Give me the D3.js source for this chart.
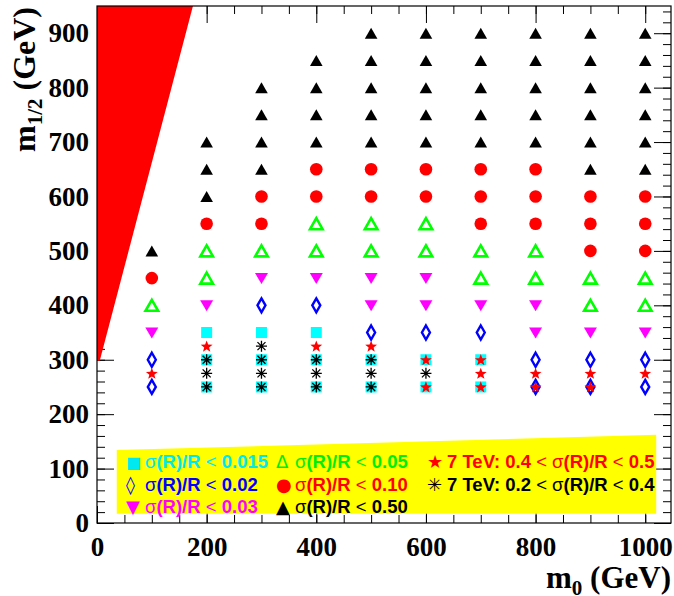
<!DOCTYPE html>
<html>
<head>
<meta charset="utf-8">
<script src="https://cdn.jsdelivr.net/npm/d3@7"></script>
<style>
  body { margin: 0; background: #fff; }
</style>
</head>
<body>
<div id="chart"></div>
<script>
// sigma(R)/R classes on the m0 - m1/2 grid, [m0, m1/2] in GeV
var cyanSquares = [[200,250],[200,300],[200,350],[300,250],[300,300],[300,350],
    [400,250],[400,300],[400,350],[500,250],[500,300],[600,250],[600,300],[700,250],[700,300]];
var blueDiamonds = [[100,250],[100,300],[300,400],[400,400],[500,350],[600,350],[700,350],
    [800,250],[800,300],[900,250],[900,300],[1000,250],[1000,300]];
var magentaDown = [[100,350],[200,400],[300,450],[400,450],[500,400],[500,450],[600,400],
    [600,450],[700,400],[800,350],[800,400],[900,350],[1000,350]];
var greenOpen = [[100,400],[200,450],[200,500],[300,500],[400,500],[400,550],[500,500],
    [500,550],[600,500],[600,550],[700,450],[700,500],[800,450],[800,500],[900,400],
    [900,450],[1000,400],[1000,450]];
var redCircles = [[100,450],[200,550],[300,550],[300,600],[400,600],[400,650],[500,600],
    [500,650],[600,600],[600,650],[700,550],[700,600],[700,650],[800,550],[800,600],
    [800,650],[900,500],[900,550],[900,600],[1000,500],[1000,550],[1000,600]];
var blackUp = [[100,500],[200,600],[200,650],[200,700],[300,650],[300,700],[300,750],[300,800],
    [400,700],[400,750],[400,800],[400,850],
    [500,700],[500,750],[500,800],[500,850],[500,900],
    [600,700],[600,750],[600,800],[600,850],[600,900],
    [700,700],[700,750],[700,800],[700,850],[700,900],
    [800,700],[800,750],[800,800],[800,850],[800,900],
    [900,650],[900,700],[900,750],[900,800],[900,850],[900,900],
    [1000,650],[1000,700],[1000,750],[1000,800],[1000,850],[1000,900]];
var redStars = [[100,275],[200,325],[400,325],[500,325],[600,250],[600,300],[700,250],
    [700,275],[700,300],[800,250],[800,275],[900,250],[900,275],[1000,275]];
var blackAsterisks = [[200,250],[200,275],[200,300],[300,250],[300,275],[300,300],[300,325],
    [400,250],[400,275],[400,300],[500,250],[500,275],[500,300],[600,275]];

// excluded region (red) and legend box, in GeV
var excluded = [[0,298],[5,298],[175,950],[0,950]];
var legendBox = [[36,17],[36,134],[1020,162],[1020,17]];

var xTicks = [0,200,400,600,800,1000];
var yTicks = [0,100,200,300,400,500,600,700,800,900];

var legendGlyphs = ["■","Δ","★","◊","●","✳","▼","▲"];
var legendLabels = ["σ(R)/R < 0.015","σ(R)/R < 0.05","7 TeV: 0.4 < σ(R)/R < 0.5",
    "σ(R)/R < 0.02","σ(R)/R < 0.10","7 TeV: 0.2 < σ(R)/R < 0.4",
    "σ(R)/R < 0.03","σ(R)/R < 0.50"];
var legendColors = ["#00e8f0","#00ee00","#ff0000","#0000ff","#ff0000","#000000","#ff00ff","#000000"];

var width = 674, height = 596;
var padL = 97, padR = 671, padT = 6, padB = 523;

var svg = d3.select("#chart")
    .append("svg")
    .attr("width", width)
    .attr("height", height);

var x = d3.scaleLinear().domain([0, 1047]).range([padL, padR]);
var y = d3.scaleLinear().domain([0, 950]).range([padB, padT]);

var serif = "'Liberation Serif','Times New Roman',serif";
var sans = "'Liberation Sans',Arial,sans-serif";

// ticks (ROOT style, pointing inside, on all four sides)
var xMinor = d3.range(0, 1047, 50);
var yMinor = d3.range(0, 951, 20);

function tickAxis(axis, tx, ty, values, size) {
    var g = svg.append("g")
        .attr("transform", "translate(" + tx + "," + ty + ")")
        .call(axis.tickValues(values).tickSize(size).tickSizeOuter(0).tickFormat(""));
    g.select(".domain").remove();
    g.selectAll("line").attr("stroke", "#000").attr("stroke-width", 1);
    return g;
}
tickAxis(d3.axisBottom(x), 0, padB, xMinor, -8);
tickAxis(d3.axisBottom(x), 0, padB, xTicks, -17);
tickAxis(d3.axisTop(x), 0, padT, xMinor, -8);
tickAxis(d3.axisTop(x), 0, padT, xTicks, -17);
tickAxis(d3.axisLeft(y), padL, 0, yMinor, -8);
tickAxis(d3.axisLeft(y), padL, 0, yTicks, -17);
tickAxis(d3.axisRight(y), padR, 0, yMinor, -8);
tickAxis(d3.axisRight(y), padR, 0, yTicks, -17);

// tick labels
var xa = svg.append("g")
    .attr("transform", "translate(0," + padB + ")")
    .call(d3.axisBottom(x).tickValues(xTicks).tickSize(0).tickPadding(14).tickFormat(d3.format("d")));
xa.select(".domain").remove();
xa.selectAll("text").attr("font-family", serif).attr("font-weight", "bold")
    .attr("font-size", 27).attr("fill", "#000");

var ya = svg.append("g")
    .attr("transform", "translate(" + padL + ",0)")
    .call(d3.axisLeft(y).tickValues(yTicks).tickSize(0).tickPadding(8).tickFormat(d3.format("d")));
ya.select(".domain").remove();
ya.selectAll("text").attr("font-family", serif).attr("font-weight", "bold")
    .attr("font-size", 27).attr("fill", "#000");

// excluded region
var poly = d3.line().x(function(d) { return x(d[0]); }).y(function(d) { return y(d[1]); });
svg.append("path")
    .attr("d", poly(excluded) + "Z")
    .attr("fill", "#ff0000");

// frame
svg.append("rect")
    .attr("x", padL).attr("y", padT)
    .attr("width", padR - padL).attr("height", padB - padT)
    .attr("fill", "none").attr("stroke", "#000").attr("stroke-width", 1.2);

// legend box
svg.append("path")
    .attr("d", poly(legendBox) + "Z")
    .attr("fill", "#ffff00");

// markers
function plot(data, d, attrs) {
    var sel = svg.append("g").selectAll("path").data(data).enter()
        .append("path")
        .attr("transform", function(p) { return "translate(" + x(p[0]) + "," + y(p[1]) + ")"; })
        .attr("d", d);
    for (var k in attrs) sel.attr(k, attrs[k]);
}

var starPath = (function() {
    var pts = [];
    for (var i = 0; i < 10; i++) {
        var r = i % 2 === 0 ? 6.2 : 2.6;
        var a = -Math.PI / 2 + i * Math.PI / 5;
        pts.push([r * Math.cos(a), r * Math.sin(a) + 0.5]);
    }
    return "M" + pts.join("L") + "Z";
})();

plot(cyanSquares, "M-5.5,-5.5h11v11h-11z", {fill: "#00ffff"});
plot(blueDiamonds, "M0,-7L4,0L0,7L-4,0Z", {fill: "none", stroke: "#0000ff", "stroke-width": 2.4});
plot(magentaDown, "M-6.5,-5L6.5,-5L0,6Z", {fill: "#ff00ff"});
plot(greenOpen, "M0,-5.5L6.3,5.5L-6.3,5.5Z", {fill: "none", stroke: "#00ff00", "stroke-width": 2.6});
plot(redCircles, d3.symbol(d3.symbolCircle, 125)(), {fill: "#ff0000"});
plot(blackUp, "M0,-5.5L6.3,5.5L-6.3,5.5Z", {fill: "#000"});
plot(redStars, starPath, {fill: "#ff0000"});
plot(blackAsterisks, "M0,-5.5V5.5M-5.5,0H5.5M-4,-4L4,4M-4,4L4,-4", {fill: "none", stroke: "#000", "stroke-width": 1.3});
plot(blackAsterisks, d3.symbol(d3.symbolCircle, 8)(), {fill: "#000"});

// legend entries
var colGlyph = [126, 276, 427], colText = [145, 295, 447], rowBase = [468, 491, 513];
legendLabels.forEach(function(label, i) {
    var c = i % 3, r = Math.floor(i / 3);
    svg.append("text")
        .attr("x", colGlyph[c]).attr("y", rowBase[r])
        .attr("font-family", "'DejaVu Sans',sans-serif")
        .attr("font-size", legendGlyphs[i] === "■" ? 16 : 18)
        .attr("fill", legendColors[i])
        .text(legendGlyphs[i]);
    var t = svg.append("text")
        .attr("x", colText[c]).attr("y", rowBase[r])
        .attr("font-family", sans).attr("font-weight", "bold").attr("font-size", 18.5)
        .attr("fill", legendColors[i]);
    label.split(/([σ<])/).forEach(function(part) {
        if (part === "") return;
        t.append("tspan")
            .attr("font-weight", part === "σ" || part === "<" ? "normal" : "bold")
            .text(part);
    });
});

// axis titles
var xt = svg.append("text")
    .attr("x", padR).attr("y", 588)
    .attr("text-anchor", "end")
    .attr("font-family", serif).attr("font-weight", "bold").attr("font-size", 31);
xt.append("tspan").text("m");
xt.append("tspan").attr("font-size", 21).attr("dy", 7).text("0");
xt.append("tspan").attr("dy", -7).text(" (GeV)");

var yt = svg.append("text")
    .attr("transform", "translate(35,7) rotate(-90)")
    .attr("text-anchor", "end")
    .attr("font-family", serif).attr("font-weight", "bold").attr("font-size", 32);
yt.append("tspan").text("m");
yt.append("tspan").attr("font-size", 21).attr("dy", 7).text("1/2");
yt.append("tspan").attr("dy", -7).text(" (GeV)");
</script>
</body>
</html>
